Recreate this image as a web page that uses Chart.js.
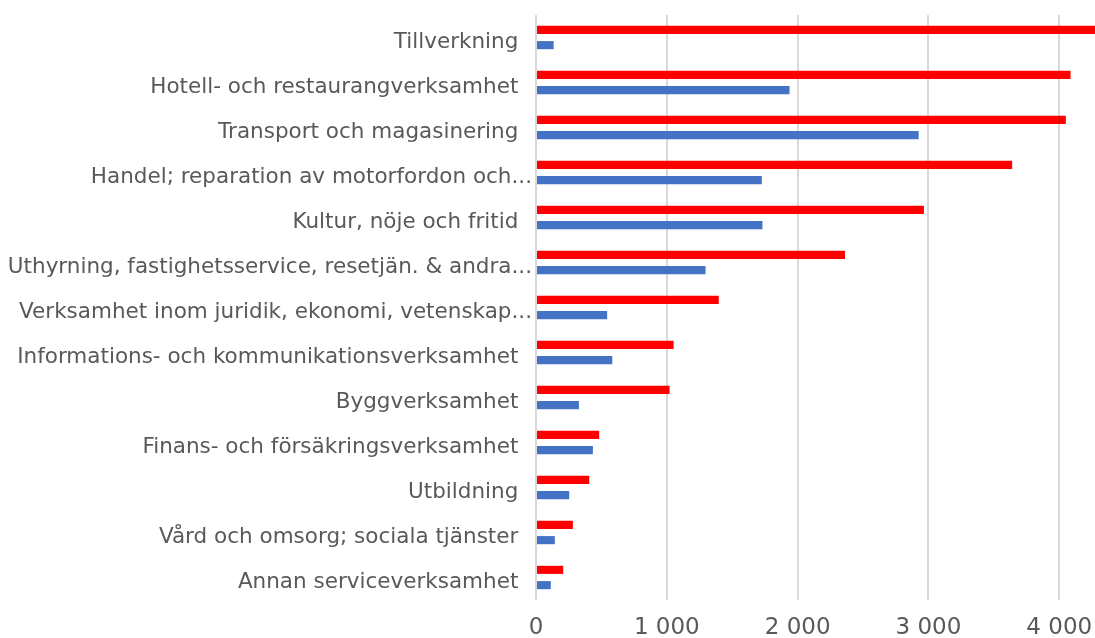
<!DOCTYPE html>
<html>
<head>
<meta charset="utf-8">
<script src="https://cdn.jsdelivr.net/npm/chart.js@4/dist/chart.umd.min.js"></script>
<style>
  html, body { margin: 0; padding: 0; background: #fff; overflow: hidden; }
  #wrap { width: 1095px; height: 638px; position: relative; }
</style>
</head>
<body>
<div id="wrap"><canvas id="chart"></canvas></div>
<script>
// Branscher
const categories = [
  'Tillverkning',
  'Hotell- och restaurangverksamhet',
  'Transport och magasinering',
  'Handel; reparation av motorfordon och...',
  'Kultur, nöje och fritid',
  'Uthyrning, fastighetsservice, resetjän. & andra...',
  'Verksamhet inom juridik, ekonomi, vetenskap...',
  'Informations- och kommunikationsverksamhet',
  'Byggverksamhet',
  'Finans- och försäkringsverksamhet',
  'Utbildning',
  'Vård och omsorg; sociala tjänster',
  'Annan serviceverksamhet'
];

const redValues = [4400, 4086, 4050, 3640, 2965, 2362, 1397, 1052, 1021, 483, 407, 282, 208];
const blueValues = [135, 1938, 2925, 1726, 1731, 1296, 544, 583, 328, 435, 254, 144, 113];

const tickValues = [0, 1000, 2000, 3000, 4000];
const axisMax = 4273;

const fmt = (v) => String(v).replace(/\B(?=(\d{3})+(?!\d))/g, ' ');

new Chart(document.getElementById('chart'), {
  type: 'bar',
  data: {
    labels: categories,
    datasets: [
      {
        data: redValues,
        backgroundColor: '#FF0000',
        categoryPercentage: 0.68,
        barPercentage: 0.53,
      },
      {
        data: blueValues,
        backgroundColor: '#4472C4',
        categoryPercentage: 0.68,
        barPercentage: 0.53,
      },
    ],
  },
  options: {
    indexAxis: 'y',
    responsive: true,
    maintainAspectRatio: false,
    animation: false,
    layout: { padding: { top: 15, right: 0, left: 0, bottom: 0 } },
    plugins: {
      legend: { display: false },
      tooltip: { enabled: false },
    },
    scales: {
      x: {
        min: 0,
        max: axisMax,
        border: { display: false },
        grid: {
          color: '#d9d9d9',
          lineWidth: 2,
          drawTicks: false,
        },
        afterBuildTicks: (scale) => {
          scale.ticks = tickValues.map((v) => ({ value: v }));
        },
        afterFit: (scale) => {
          scale.height = 38;
          scale.paddingLeft = 0;
          scale.paddingRight = 0;
        },
        ticks: {
          padding: 14,
          color: '#595959',
          font: { family: 'DejaVu Sans', size: 23 },
          maxRotation: 0,
          callback: (v) => fmt(v),
        },
      },
      y: {
        border: { display: false },
        grid: { display: false, drawTicks: false },
        afterFit: (scale) => {
          scale.width = 536;
          scale.paddingTop = 0;
          scale.paddingBottom = 0;
        },
        ticks: {
          padding: 4,
          labelOffset: 5,
          color: '#595959',
          font: { family: 'DejaVu Sans', size: 21.5 },
          autoSkip: false,
          // cut-off labels run right up to the axis, full ones stop short of it
          callback: (v, i) => {
            const lbl = categories[i];
            return lbl.endsWith('...') ? lbl : lbl + '  ';
          },
        },
      },
    },
  },
});
</script>
</body>
</html>
